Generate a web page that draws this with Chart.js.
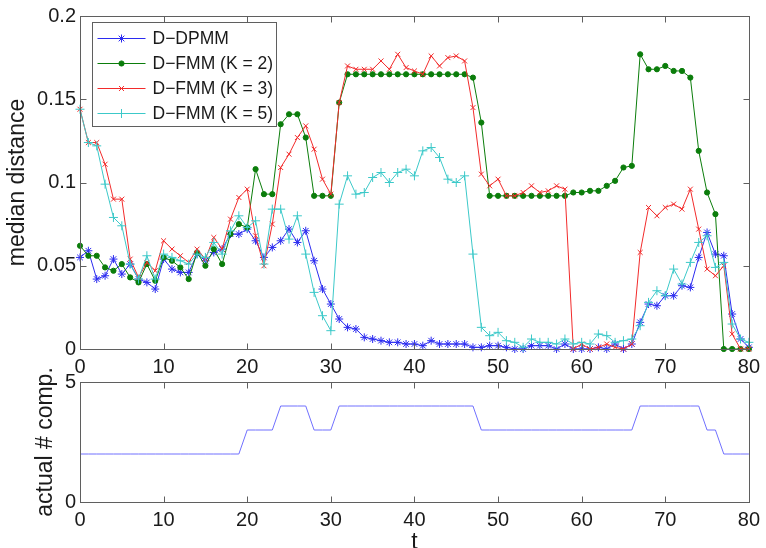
<!DOCTYPE html>
<html>
<head>
<meta charset="utf-8">
<script src="https://cdn.jsdelivr.net/npm/chart.js@4.4.1/dist/chart.umd.min.js"></script>
<style>
html,body{margin:0;padding:0;background:#fff;overflow:hidden;}
#wrap{position:relative;width:766px;height:548px;background:#fff;}
#c1{position:absolute;left:0;top:0;}
#c2{position:absolute;left:0;top:366px;}
</style>
</head>
<body>
<div id="wrap">
<canvas id="c1" width="766" height="375"></canvas>
<canvas id="c2" width="766" height="182"></canvas>
</div>
<script>
// ---------------- data ----------------
const tValues = [0,1,2,3,4,5,6,7,8,9,10,11,12,13,14,15,16,17,18,19,20,21,22,23,24,25,26,27,28,29,30,31,32,33,34,35,36,37,38,39,40,41,42,43,44,45,46,47,48,49,50,51,52,53,54,55,56,57,58,59,60,61,62,63,64,65,66,67,68,69,70,71,72,73,74,75,76,77,78,79,80];

const dDpmm = [0.055,0.059,0.042,0.044,0.054,0.045,0.051,0.042,0.040,0.036,
  0.054,0.048,0.046,0.046,0.057,0.053,0.058,0.060,0.069,0.069,
  0.072,0.065,0.055,0.061,0.065,0.072,0.064,0.071,0.053,0.036,
  0.027,0.018,0.013,0.012,0.007,0.006,0.005,0.004,0.004,0.003,
  0.003,0.002,0.005,0.003,0.003,0.003,0.003,0.001,0.001,0.002,
  0.002,0.001,0.000,0.000,0.002,0.002,0.002,0.000,0.003,0.000,
  0.000,0.000,0.001,0.000,0.003,0.000,0.003,0.016,0.027,0.026,
  0.032,0.032,0.038,0.037,0.055,0.070,0.057,0.056,0.021,0.006,
  0.001];

const dFmmK2 = [0.062,0.056,0.056,0.049,0.047,0.051,0.043,0.040,0.051,0.041,
  0.055,0.053,0.049,0.042,0.058,0.050,0.060,0.051,0.069,0.075,
  0.073,0.108,0.093,0.093,0.135,0.141,0.141,0.127,0.092,0.092,
  0.092,0.148,0.165,0.165,0.165,0.165,0.165,0.165,0.165,0.165,
  0.165,0.165,0.165,0.165,0.165,0.165,0.165,0.163,0.136,0.092,
  0.092,0.092,0.092,0.092,0.092,0.092,0.092,0.092,0.092,0.094,
  0.094,0.095,0.095,0.098,0.101,0.109,0.110,0.177,0.168,0.168,
  0.170,0.167,0.167,0.163,0.119,0.094,0.081,0.000,0.000,0.000,
  0.000];

const dFmmK3 = [0.144,0.124,0.124,0.111,0.090,0.090,0.054,0.043,0.052,0.047,
  0.065,0.060,0.056,0.052,0.060,0.054,0.067,0.060,0.078,0.091,
  0.096,0.068,0.050,0.075,0.109,0.117,0.127,0.134,0.120,0.102,
  0.093,0.148,0.170,0.168,0.168,0.168,0.173,0.168,0.177,0.169,
  0.167,0.165,0.176,0.170,0.175,0.176,0.173,0.145,0.105,0.098,
  0.102,0.092,0.092,0.094,0.098,0.094,0.095,0.098,0.096,0.000,
  0.003,0.000,0.001,0.003,0.001,0.000,0.003,0.058,0.085,0.080,
  0.085,0.087,0.084,0.096,0.072,0.048,0.044,0.050,0.009,0.000,
  0.000];

const dFmmK5 = [0.144,0.124,0.122,0.099,0.079,0.074,0.051,0.042,0.056,0.042,
  0.057,0.055,0.053,0.051,0.057,0.055,0.064,0.057,0.071,0.080,
  0.073,0.077,0.051,0.084,0.084,0.066,0.080,0.057,0.034,0.020,
  0.011,0.087,0.104,0.093,0.094,0.103,0.106,0.100,0.106,0.108,
  0.104,0.119,0.121,0.115,0.102,0.100,0.104,0.057,0.013,0.008,
  0.010,0.005,0.004,0.001,0.006,0.004,0.004,0.003,0.006,0.003,
  0.004,0.003,0.009,0.008,0.004,0.005,0.006,0.014,0.028,0.035,
  0.032,0.048,0.039,0.052,0.064,0.068,0.049,0.052,0.015,0.006,
  0.004];

const actualComp = [2,2,2,2,2,2,2,2,2,2,2,2,2,2,2,2,2,2,2,2,
  3,3,3,3,4,4,4,4,3,3,3,4,4,4,4,4,4,4,4,4,
  4,4,4,4,4,4,4,4,3,3,3,3,3,3,3,3,3,3,3,3,
  3,3,3,3,3,3,3,4,4,4,4,4,4,4,4,3,3,2,2,2,
  2];

const seriesNames = ['D\u2212DPMM','D\u2212FMM (K = 2)','D\u2212FMM (K = 3)','D\u2212FMM (K = 5)'];
const xTickValues = [0,10,20,30,40,50,60,70,80];
const yTickValuesTop = [0,0.05,0.1,0.15,0.2];
const yTickValuesBottom = [0,5];

// ---------------- style ----------------
const FONT = "'Liberation Sans', Arial, Helvetica, sans-serif";
const TEXT = '#1a1a1a';
const AXIS = '#5f5f5f';
const COLORS = ['#2b2bf0','#0b7d0b','#f22b2b','#3cc9c9'];
const STYLES = ['star','circle','crossRot','cross'];
const RADII = [4,2.6,3.5,4.5];

function pts(ys){ return tValues.map((t,i)=>({x:t,y:ys[i]})); }

const framePlugin = {
  id:'frame',
  afterDatasetsDraw(chart){
    const {ctx, chartArea:a, scales} = chart;
    ctx.save();
    ctx.strokeStyle = AXIS; ctx.lineWidth = 1;
    const l = Math.round(a.left)+0.5, r = Math.round(a.right)+0.5, t = Math.round(a.top)+0.5, b = Math.round(a.bottom)+0.5;
    ctx.strokeRect(l, t, r-l, b-t);
    const L = 6;
    ctx.beginPath();
    scales.x.ticks.forEach(tk=>{
      const x = Math.round(scales.x.getPixelForValue(tk.value))+0.5;
      ctx.moveTo(x,b); ctx.lineTo(x,b-L);
      ctx.moveTo(x,t); ctx.lineTo(x,t+L);
    });
    scales.y.ticks.forEach(tk=>{
      const y = Math.round(scales.y.getPixelForValue(tk.value))+0.5;
      ctx.moveTo(l,y); ctx.lineTo(l+L,y);
      ctx.moveTo(r,y); ctx.lineTo(r-L,y);
    });
    ctx.stroke();
    ctx.restore();
  }
};

const legendPlugin = {
  id:'boxLegend',
  afterDraw(chart){
    const {ctx, chartArea:a} = chart;
    const ds = chart.data.datasets;
    ctx.save();
    ctx.font = "17.5px " + FONT;
    let maxW = 0;
    ds.forEach(d=>{ maxW = Math.max(maxW, ctx.measureText(d.label).width); });
    const bx = Math.round(a.left)+12.5, by = Math.round(a.top)+6.5;
    const bw = Math.round(60 + maxW + 3), bh = 104;
    ctx.fillStyle = '#fff';
    ctx.fillRect(bx,by,bw,bh);
    ctx.strokeStyle = AXIS; ctx.lineWidth = 1;
    ctx.strokeRect(bx,by,bw,bh);
    ds.forEach((d,i)=>{
      const y = by + 16 + i*25;
      ctx.strokeStyle = d.borderColor; ctx.lineWidth = 1;
      ctx.beginPath(); ctx.moveTo(bx+5,y); ctx.lineTo(bx+53,y); ctx.stroke();
      ctx.fillStyle = d.pointBackgroundColor; ctx.strokeStyle = d.pointBorderColor; ctx.lineWidth = 1;
      Chart.helpers.drawPoint(ctx,{pointStyle:d.pointStyle,radius:d.pointRadius,borderWidth:1,rotation:0},bx+29,y);
      ctx.fillStyle = TEXT; ctx.textBaseline = 'middle'; ctx.textAlign = 'left';
      ctx.fillText(d.label, bx+60, y+1);
    });
    ctx.restore();
  }
};

function xScale(withTitle){
  return {
    type:'linear', min:0, max:80, offset:false,
    grid:{display:false, drawTicks:false}, border:{display:false},
    afterBuildTicks:s=>{ s.ticks = xTickValues.map(v=>({value:v})); },
    ticks:{color:TEXT, font:{family:FONT,size:20}, padding:6, autoSkip:false, maxRotation:0,
      callback:v=>String(v)},
    title: withTitle ? {display:true, text:'t', color:TEXT, font:{family:FONT,size:23}, padding:{top:0,bottom:-8}} : {display:false},
    afterFit:s=>{ s.height = withTitle ? 46 : 26; }
  };
}

// ---------------- top chart ----------------
const topDatasets = [dDpmm,dFmmK2,dFmmK3,dFmmK5].map((arr,i)=>({
  label: seriesNames[i],
  data: pts(arr),
  borderColor: COLORS[i],
  backgroundColor: COLORS[i],
  borderWidth: 1,
  pointStyle: STYLES[i],
  pointRadius: RADII[i],
  pointBorderWidth: 1,
  pointBorderColor: COLORS[i],
  pointBackgroundColor: COLORS[i],
  tension: 0,
  clip: false,
  order: 4 - i
}));

new Chart(document.getElementById('c1'), {
  type:'line',
  data:{datasets: topDatasets},
  options:{
    responsive:false, animation:false, events:[],
    layout:{padding:{top:15,right:14,left:0,bottom:0}},
    plugins:{legend:{display:false}, tooltip:{enabled:false}},
    scales:{
      x: xScale(false),
      y:{
        type:'linear', min:0, max:0.2,
        grid:{display:false, drawTicks:false}, border:{display:false},
        afterBuildTicks:s=>{ s.ticks = yTickValuesTop.map(v=>({value:v})); },
        ticks:{color:TEXT, font:{family:FONT,size:20}, padding:4,
          callback:v=>String(parseFloat(Number(v).toFixed(3)))},
        title:{display:true, text:'median distance', color:TEXT, font:{family:FONT,size:23}, padding:{top:4,bottom:0}},
        afterFit:s=>{ s.width = 80; }
      }
    }
  },
  plugins:[framePlugin, legendPlugin]
});

// ---------------- bottom chart ----------------
new Chart(document.getElementById('c2'), {
  type:'line',
  data:{datasets:[{
    label:'actual # comp.',
    data: pts(actualComp),
    borderColor:'#7070ff', borderWidth:1, pointRadius:0, tension:0, clip:false
  }]},
  options:{
    responsive:false, animation:false, events:[],
    layout:{padding:{top:15,right:14,left:0,bottom:0}},
    plugins:{legend:{display:false}, tooltip:{enabled:false}},
    scales:{
      x: xScale(true),
      y:{
        type:'linear', min:0, max:5,
        grid:{display:false, drawTicks:false}, border:{display:false},
        afterBuildTicks:s=>{ s.ticks = yTickValuesBottom.map(v=>({value:v})); },
        ticks:{color:TEXT, font:{family:FONT,size:20}, padding:4, callback:v=>String(v)},
        title:{display:true, text:'actual # comp.', color:TEXT, font:{family:FONT,size:23}, padding:{top:32,bottom:0}},
        afterFit:s=>{ s.width = 80; }
      }
    }
  },
  plugins:[framePlugin]
});
</script>
</body>
</html>
